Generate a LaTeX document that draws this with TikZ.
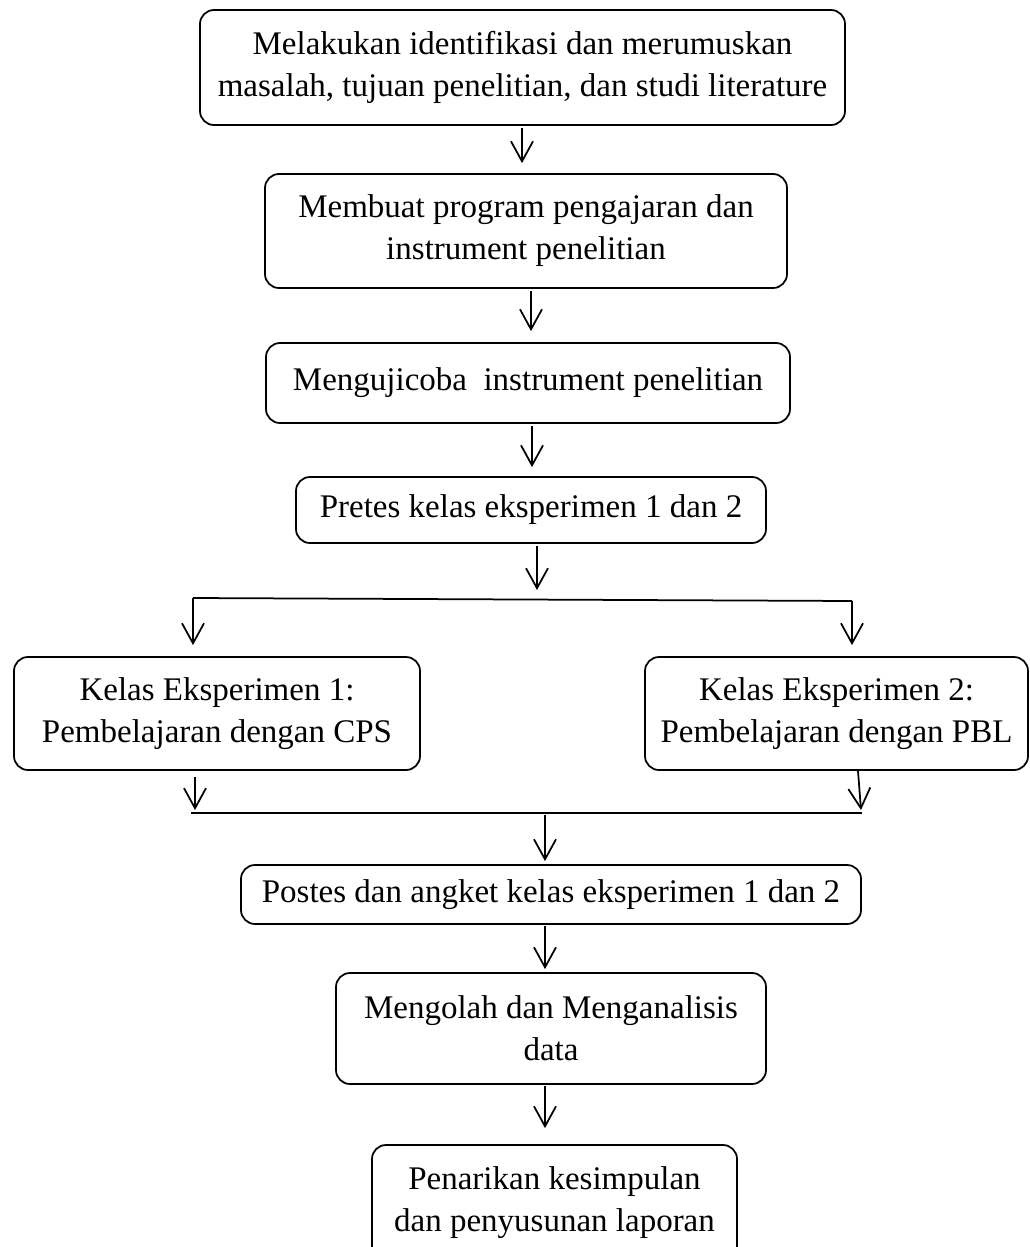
\documentclass[tikz,border=0pt]{standalone}
\usepackage{fontspec}
\setmainfont{Liberation Serif}
\usetikzlibrary{arrows.meta}
\begin{document}
\begin{tikzpicture}[x=0.4pt,y=-0.4pt,
  line width=0.7pt,
  stepbox/.style={draw, rounded corners=5.6pt, align=center, inner sep=0pt,
    font=\fontsize{13.2}{16.8}\selectfont},
  arr/.style={-{Straight Barb[length=8pt,width=8.8pt]}}]
\useasboundingbox (0,0) rectangle (1030,1247);
\clip (0,0) rectangle (1030,1247);
% boxes
\node[stepbox, minimum width=258pt, minimum height=46pt] (b1) at (522.5,67.5)
  {Melakukan identifikasi dan merumuskan\\masalah, tujuan penelitian, dan studi literature};
\node[stepbox, minimum width=208.8pt, minimum height=45.6pt] (b2) at (526,231)
  {Membuat program pengajaran dan\\instrument penelitian};
\node[stepbox, minimum width=209.6pt, minimum height=32pt] (b3) at (528,383)
  {Mengujicoba~ instrument penelitian};
\node[stepbox, minimum width=188pt, minimum height=26.4pt] (b4) at (531,510)
  {Pretes kelas eksperimen 1 dan 2};
\node[stepbox, minimum width=162.4pt, minimum height=45.2pt] (b5) at (217,713.5)
  {Kelas Eksperimen 1:\\Pembelajaran dengan CPS};
\node[stepbox, minimum width=153.2pt, minimum height=45.2pt] (b6) at (836.5,713.5)
  {Kelas Eksperimen 2:\\Pembelajaran dengan PBL};
\node[stepbox, minimum width=248pt, minimum height=23.6pt] (b7) at (551,894.5)
  {Postes dan angket kelas eksperimen 1 dan 2};
\node[stepbox, minimum width=172pt, minimum height=44.4pt] (b8) at (551,1028.5)
  {Mengolah dan Menganalisis\\data};
\node[stepbox, minimum width=146pt, minimum height=46.4pt] (b9) at (554.5,1203)
  {Penarikan kesimpulan\\dan penyusunan laporan};
% split / join coordinates
\coordinate (sl) at (193,598);
\coordinate (sr) at (852,601);
\coordinate (jl) at (191,813);
\coordinate (jr) at (862,813);
\coordinate (jm) at (545,815);
% connectors
\draw[arr] ([yshift=-0.8pt]b1.south -| 522,0) -- ([yshift=4pt]b2.north -| 522,0);
\draw[arr] ([yshift=-0.8pt]b2.south -| 531,0) -- ([yshift=4.4pt]b3.north -| 531,0);
\draw[arr] ([yshift=-0.8pt]b3.south -| 532,0) -- ([yshift=3.6pt]b4.north -| 532,0);
\draw[arr] ([yshift=-0.8pt]b4.south -| 537,0) -- (537,590);
\draw (sl) -- (sr);
\draw[arr] (sl) -- ([yshift=4.4pt]b5.north -| sl);
\draw[arr] (sr) -- ([yshift=4.4pt]b6.north -| sr);
\draw[arr] ([yshift=-2.4pt]b5.south -| 195,0) -- (195,810);
\draw[arr] (b6.south -| 858,0) -- (861,810);
\draw (jl) -- (jr);
\draw[arr] (jm) -- ([yshift=1.2pt]b7.north -| jm);
\draw[arr] ([yshift=-0.4pt]b7.south -| 545,0) -- ([yshift=1.2pt]b8.north -| 545,0);
\draw[arr] ([yshift=-0.4pt]b8.south -| 545,0) -- ([yshift=6.4pt]b9.north -| 545,0);
\end{tikzpicture}
\end{document}
